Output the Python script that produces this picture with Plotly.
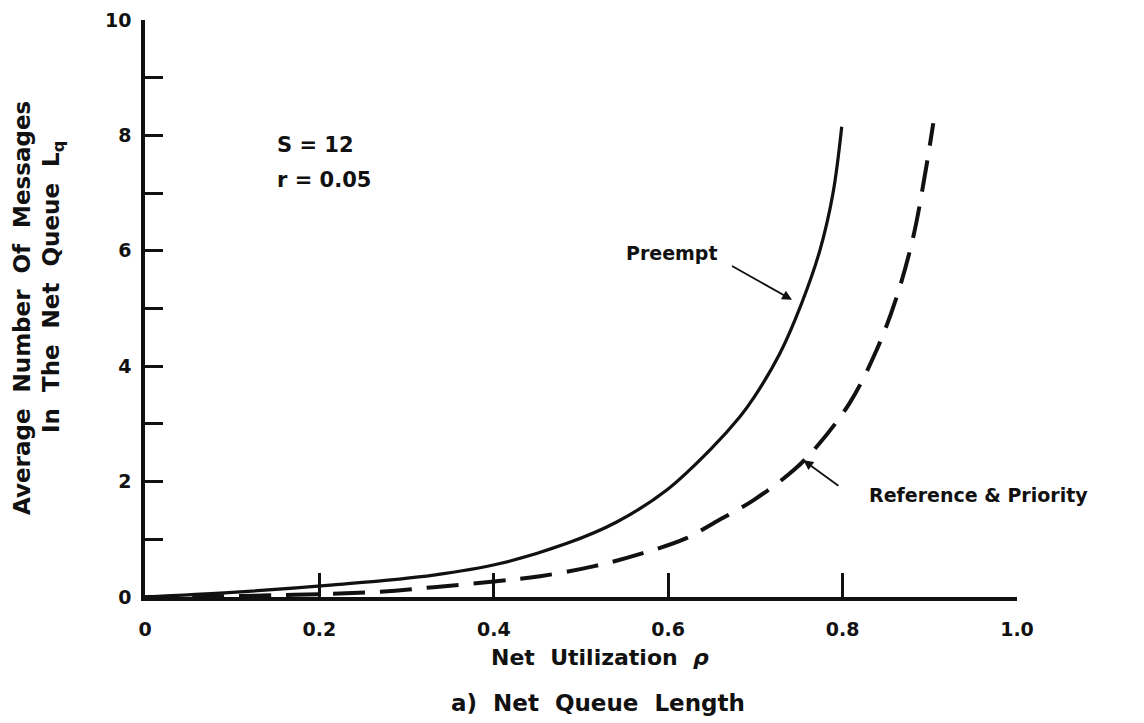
import plotly.graph_objects as go

# Data
rho_preempt = [0, 0.10, 0.216, 0.331, 0.407, 0.484, 0.541, 0.598, 0.648, 0.682, 0.698, 0.728, 0.753, 0.774, 0.789, 0.799]
lq_preempt = [0, 0.08, 0.21, 0.38, 0.58, 0.93, 1.30, 1.85, 2.55, 3.12, 3.45, 4.22, 5.09, 6.01, 7.0, 8.15]

rho_ref = [0, 0.15, 0.27, 0.331, 0.40, 0.453, 0.514, 0.571, 0.621, 0.652, 0.698, 0.744, 0.770, 0.808, 0.839, 0.862, 0.881, 0.894, 0.904]
lq_ref = [0, 0.03, 0.09, 0.17, 0.27, 0.36, 0.53, 0.76, 1.02, 1.28, 1.68, 2.2, 2.6, 3.36, 4.28, 5.2, 6.24, 7.28, 8.21]

x_ticks = [0, 0.2, 0.4, 0.6, 0.8, 1.0]
x_ticklabels = ["0", "0.2", "0.4", "0.6", "0.8", "1.0"]
y_ticks = [0, 1, 2, 3, 4, 5, 6, 7, 8, 9, 10]
y_ticklabels = ["0", "", "2", "", "4", "", "6", "", "8", "", "10"]

FONT = "DejaVu Sans"
INK = "#111111"


def f(size):
    return dict(family=FONT, size=size, color=INK, weight="bold")


fig = go.Figure()
fig.add_trace(go.Scatter(x=rho_preempt, y=lq_preempt, mode="lines",
                         line=dict(color=INK, width=3.2, shape="spline", smoothing=1.0),
                         showlegend=False, hoverinfo="skip"))
fig.add_trace(go.Scatter(x=rho_ref, y=lq_ref, mode="lines",
                         line=dict(color=INK, width=4, shape="spline", smoothing=1.0, dash="32px,15px"),
                         showlegend=False, hoverinfo="skip"))

# Page body has an 8px margin; plot area spans px 145..1017 (x) and 20..597 (y)
fig.update_layout(
    width=1136, height=715,
    margin=dict(l=137, r=127, t=12, b=126, autoexpand=False),
    paper_bgcolor="white", plot_bgcolor="white",
    font=f(18),
    xaxis=dict(range=[0, 1.0], tickvals=x_ticks, ticktext=x_ticklabels, automargin=False,
               showgrid=False, zeroline=False, showline=True, linecolor=INK, linewidth=3.5,
               ticks="inside", ticklen=24, tickwidth=2.5, tickcolor=INK,
               tickfont=f(19), ticklabelstandoff=12),
    yaxis=dict(range=[0, 10], tickvals=y_ticks, ticktext=y_ticklabels, automargin=False,
               showgrid=False, zeroline=False, showline=True, linecolor=INK, linewidth=3.5,
               ticks="inside", ticklen=18, tickwidth=2.5, tickcolor=INK,
               tickfont=f(19), ticklabelstandoff=6),
)


def px_x(p):
    return (p - 145) / 872


def px_y(p):
    return (597 - p) / 577


annotations = [
    dict(text="Average  Number  Of  Messages", x=px_x(22), y=px_y(308), textangle=-90, size=23),
    dict(text="In  The  Net  Queue  L<sub>q</sub>", x=px_x(53), y=px_y(287), textangle=-90, size=23),
    dict(text="Net  Utilization  <i>ρ</i>", x=px_x(600), y=px_y(657), size=22),
    dict(text="a)  Net  Queue  Length", x=px_x(598), y=px_y(703), size=23),
    dict(text="S = 12", x=px_x(275), y=px_y(145), xanchor="left", size=21),
    dict(text="r = 0.05", x=px_x(275), y=px_y(180), xanchor="left", size=21),
    dict(text="Preempt", x=px_x(672), y=px_y(253), size=19),
    dict(text="Reference & Priority", x=px_x(978), y=px_y(495), size=19),
]
for a in annotations:
    size = a.pop("size")
    a.setdefault("xanchor", "center")
    fig.add_annotation(xref="paper", yref="paper", showarrow=False, yanchor="middle",
                       font=f(size), **a)

# Leader arrows pointing at the curves
fig.add_annotation(x=0.742, y=5.15, xref="x", yref="y", text=" ",
                   ax=-62, ay=-35, showarrow=True, arrowhead=2, arrowsize=1.1,
                   arrowwidth=1.8, arrowcolor=INK, font=dict(size=2))
fig.add_annotation(x=0.755, y=2.37, xref="x", yref="y", text=" ",
                   ax=37, ay=27, showarrow=True, arrowhead=2, arrowsize=1.1,
                   arrowwidth=1.8, arrowcolor=INK, font=dict(size=2))

fig.write_html("out.html")
